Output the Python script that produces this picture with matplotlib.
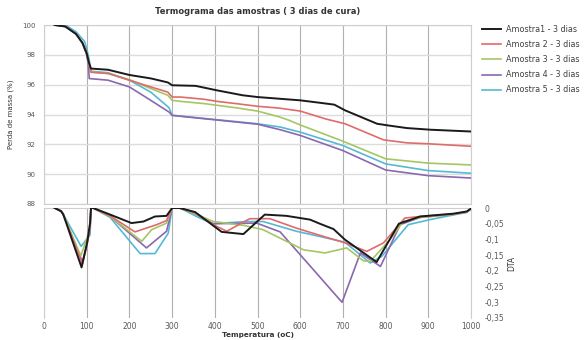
import matplotlib
matplotlib.use("Agg")
import matplotlib.pyplot as plt
from matplotlib.ticker import FuncFormatter

# ---------------- data ----------------
labels = ["Amostra1 - 3 dias", "Amostra 2 - 3 dias", "Amostra 3 - 3 dias",
          "Amostra 4 - 3 dias", "Amostra 5 - 3 dias"]
colors = ["#1a1a1a", "#e06b6b", "#a5c663", "#8a68b0", "#55b9d6"]

# TGA (mass %)
tga_t1 = [25, 50, 75, 90, 100, 105, 110, 150, 200, 250, 290, 300, 355, 405, 465, 500, 600, 645, 680, 705, 780, 805, 850, 905, 1000]
tga_m1 = [100, 99.9, 99.4, 98.8, 98.1, 97.5, 97.08, 97.0, 96.65, 96.42, 96.15, 95.96, 95.92, 95.62, 95.29, 95.17, 94.95, 94.79, 94.66, 94.28, 93.38, 93.27, 93.09, 92.98, 92.86]

tga_t2 = [25, 50, 75, 90, 100, 105, 110, 150, 200, 250, 290, 300, 320, 375, 405, 450, 500, 550, 600, 660, 705, 795, 850, 905, 1000]
tga_m2 = [100, 99.9, 99.4, 98.8, 98.1, 97.4, 96.83, 96.75, 96.3, 95.85, 95.5, 95.17, 95.17, 95.02, 94.88, 94.73, 94.55, 94.43, 94.23, 93.7, 93.38, 92.3, 92.1, 92.03, 91.87]

tga_t3 = [25, 50, 75, 90, 100, 105, 110, 150, 200, 250, 290, 300, 320, 375, 450, 500, 550, 575, 600, 700, 800, 900, 1000]
tga_m3 = [100, 99.9, 99.4, 98.8, 98.1, 97.4, 96.85, 96.75, 96.34, 95.74, 95.29, 94.95, 94.88, 94.73, 94.45, 94.23, 93.85, 93.6, 93.3, 92.21, 91.03, 90.74, 90.62]

tga_t4 = [25, 50, 75, 90, 100, 104, 106, 150, 200, 250, 293, 300, 500, 553, 600, 700, 800, 900, 1000]
tga_m4 = [100, 99.9, 99.4, 98.8, 98.0, 97.3, 96.41, 96.3, 95.85, 94.95, 94.16, 93.94, 93.35, 92.98, 92.6, 91.58, 90.28, 89.9, 89.74]

tga_t5 = [25, 50, 75, 95, 100, 105, 110, 150, 200, 250, 293, 300, 500, 553, 600, 700, 800, 900, 1000]
tga_m5 = [100, 100, 99.55, 98.9, 98.4, 97.8, 96.9, 96.8, 96.3, 95.5, 94.45, 93.95, 93.38, 93.16, 92.82, 91.92, 90.69, 90.24, 90.06]

# DTA
dta_t1 = [25, 40, 45, 88, 101, 108, 110, 115, 155, 205, 233, 260, 287, 300, 318, 354, 416, 467, 517, 568, 623, 646, 678, 705, 779, 831, 881, 959, 990, 1000]
dta_v1 = [0, -0.01, -0.02, -0.189, -0.11, -0.047, 0, 0, -0.021, -0.048, -0.043, -0.027, -0.025, 0, 0, -0.013, -0.076, -0.083, -0.021, -0.025, -0.037, -0.05, -0.067, -0.101, -0.172, -0.05, -0.027, -0.018, -0.011, -0.002]

dta_t2 = [25, 40, 45, 90, 100, 108, 110, 115, 155, 213, 264, 287, 300, 318, 354, 396, 428, 482, 529, 591, 646, 705, 756, 795, 845, 881, 959, 990, 1000]
dta_v2 = [0, -0.01, -0.02, -0.178, -0.12, -0.06, 0, 0, -0.025, -0.076, -0.053, -0.04, 0, 0, -0.015, -0.053, -0.074, -0.034, -0.034, -0.064, -0.087, -0.111, -0.138, -0.111, -0.032, -0.027, -0.019, -0.012, -0.002]

dta_t3 = [25, 40, 45, 86, 100, 108, 110, 115, 155, 229, 252, 287, 300, 318, 354, 396, 467, 513, 608, 658, 709, 748, 764, 810, 841, 881, 959, 990, 1000]
dta_v3 = [0, -0.01, -0.02, -0.152, -0.1, -0.06, 0, 0, -0.027, -0.106, -0.069, -0.048, 0, 0, -0.018, -0.043, -0.055, -0.069, -0.133, -0.143, -0.127, -0.168, -0.17, -0.101, -0.043, -0.03, -0.02, -0.013, -0.002]

dta_t4 = [25, 40, 45, 90, 100, 106, 110, 115, 155, 240, 287, 300, 318, 354, 396, 498, 553, 698, 741, 788, 834, 881, 959, 990, 1000]
dta_v4 = [0, -0.01, -0.02, -0.172, -0.12, -0.08, 0, 0, -0.027, -0.127, -0.074, 0, 0, -0.018, -0.05, -0.048, -0.076, -0.30, -0.143, -0.186, -0.053, -0.03, -0.02, -0.013, -0.002]

dta_t5 = [25, 40, 45, 87, 108, 110, 115, 155, 225, 260, 291, 300, 318, 365, 396, 475, 513, 591, 670, 705, 764, 791, 853, 904, 959, 990, 1000]
dta_v5 = [0, -0.01, -0.02, -0.122, -0.085, 0, 0, -0.03, -0.145, -0.145, -0.08, 0, 0, -0.032, -0.05, -0.043, -0.043, -0.074, -0.098, -0.109, -0.175, -0.154, -0.053, -0.037, -0.022, -0.014, -0.003]

x_ticks = [0, 100, 200, 300, 400, 500, 600, 700, 800, 900, 1000]
tga_ticks = [88, 90, 92, 94, 96, 98, 100]
dta_ticks = [0, -0.05, -0.1, -0.15, -0.2, -0.25, -0.3, -0.35]

tga_t = [tga_t1, tga_t2, tga_t3, tga_t4, tga_t5]
tga_m = [tga_m1, tga_m2, tga_m3, tga_m4, tga_m5]
dta_t = [dta_t1, dta_t2, dta_t3, dta_t4, dta_t5]
dta_v = [dta_v1, dta_v2, dta_v3, dta_v4, dta_v5]

# ---------------- figure ----------------
plt.rcParams['font.family'] = ['DejaVu Sans']
W, H = 587, 340
fig = plt.figure(figsize=(W / 100, H / 100), dpi=100)
fig.patch.set_facecolor("white")

left, right = 44 / W, 471 / W
ax1 = fig.add_axes([left, 1 - 204 / H, right - left, (204 - 25) / H])
ax2 = fig.add_axes([left, 1 - 318 / H, right - left, (318 - 208) / H])

tick_col = "#595959"
vgrid = "#b0b0b0"
hgrid = "#dcdcdc"
zorders = [10, 9, 8, 7, 6]
lws = [1.4, 1.2, 1.2, 1.2, 1.2]

handles = []
for i in range(5):
    h, = ax1.plot(tga_t[i], tga_m[i], color=colors[i], lw=lws[i], zorder=zorders[i])
    handles.append(h)
    ax2.plot(dta_t[i], dta_v[i], color=colors[i], lw=lws[i], zorder=zorders[i])

# top axes
ax1.set_xlim(0, 1000)
ax1.set_ylim(88, 100)
ax1.set_xticks(x_ticks)
ax1.set_yticks(tga_ticks)
ax1.set_yticklabels([str(v) for v in tga_ticks])
ax1.tick_params(axis='x', length=0, labelbottom=False)
ax1.tick_params(axis='y', length=0, labelsize=5, colors=tick_col, pad=6)
ax1.grid(axis='x', color=vgrid, lw=0.8)
ax1.grid(axis='y', color=hgrid, lw=1.0)
for s in ax1.spines.values():
    s.set_color("#cfcfcf")
    s.set_linewidth(0.8)
ax1.set_ylabel("Perda de massa (%)", fontsize=5, color="#333333", labelpad=6)

# bottom axes
ax2.set_xlim(0, 1000)
ax2.set_ylim(-0.35, 0)
ax2.set_xticks(x_ticks)
ax2.set_xticklabels([str(v) for v in x_ticks])
ax2.yaxis.tick_right()
ax2.yaxis.set_label_position("right")
ax2.set_yticks(dta_ticks)
ax2.yaxis.set_major_formatter(FuncFormatter(
    lambda v, p: "0" if abs(v) < 1e-9 else ("%g" % v).replace(".", ",")))
ax2.tick_params(axis='x', length=0, labelsize=5.5, colors=tick_col, pad=3)
ax2.tick_params(axis='y', length=0, labelsize=5.5, colors=tick_col, pad=10)
ax2.grid(axis='x', color=vgrid, lw=0.8)
for s in ax2.spines.values():
    s.set_color("#cfcfcf")
    s.set_linewidth(0.8)
ax2.spines['bottom'].set_visible(False)
ax2.set_ylabel("DTA", fontsize=5.5, color="#333333", labelpad=2)

fig.text((44 + 471) / 2 / W, 1 - 334.5 / H, "Temperatura (oC)",
         ha="center", va="center", fontsize=5.2, fontweight="bold", color="#333333")

fig.text((44 + 471) / 2 / W, 1 - 11 / H, "Termograma das amostras ( 3 dias de cura)",
         ha="center", va="center", fontsize=6, fontweight="bold", color="#333333")

leg = fig.legend(handles, labels, loc="upper left", bbox_to_anchor=(479 / W, 1 - 22 / H),
                 frameon=False, fontsize=5.8, handlelength=2.3, handletextpad=0.6,
                 labelspacing=0.75, borderaxespad=0)
for t in leg.get_texts():
    t.set_color("#404040")

fig.savefig("out.png", dpi=100, facecolor="white")
